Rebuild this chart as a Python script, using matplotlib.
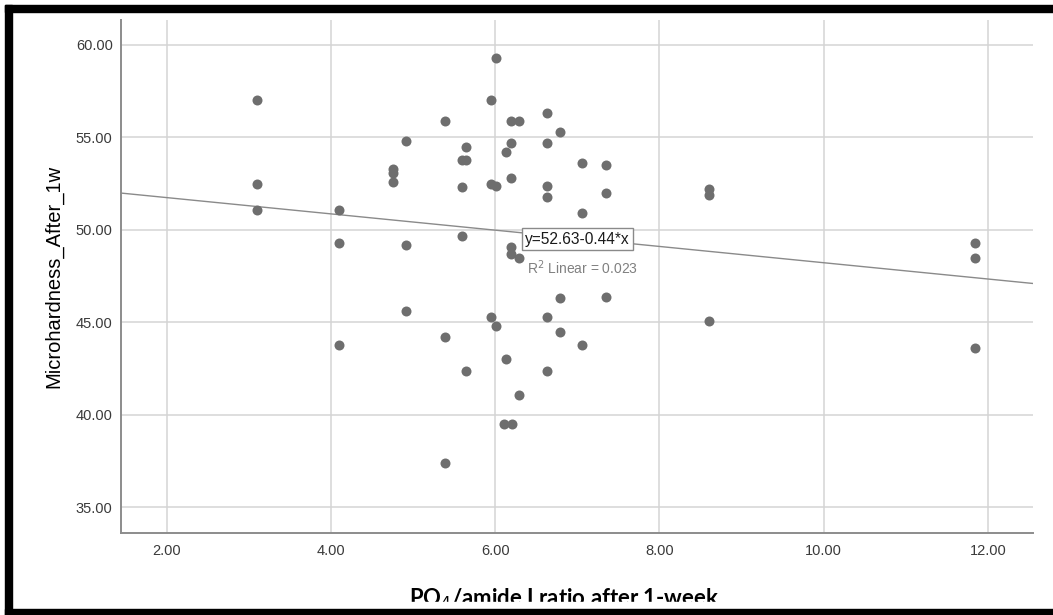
import matplotlib
matplotlib.use('Agg')
import matplotlib.pyplot as plt
from matplotlib.patches import Rectangle

plt.rcParams['font.family'] = ['Liberation Sans', 'DejaVu Sans']

# PO4/amide I ratio after 1 week
ratio = [3.10, 3.10, 3.10,
         4.10, 4.10, 4.10,
         4.76, 4.76, 4.76,
         4.91, 4.91, 4.91,
         5.39, 5.39, 5.39,
         5.59, 5.59, 5.59,
         5.65, 5.65, 5.65,
         5.95, 5.95, 5.95,
         6.01, 6.01, 6.01,
         6.13, 6.13, 6.11,
         6.19, 6.19, 6.19, 6.19, 6.19, 6.20,
         6.29, 6.29, 6.29,
         6.63, 6.63, 6.63, 6.63, 6.63, 6.63,
         6.79, 6.79, 6.79,
         7.06, 7.06, 7.06,
         7.35, 7.35, 7.35,
         8.61, 8.61, 8.61,
         11.84, 11.84, 11.84]
# microhardness after 1 week
hardness = [57.0, 52.5, 51.1,
            51.1, 49.3, 43.8,
            53.3, 53.1, 52.6,
            54.8, 49.2, 45.6,
            55.9, 44.2, 37.4,
            53.8, 52.3, 49.7,
            54.5, 53.8, 42.4,
            57.0, 52.5, 45.3,
            59.3, 52.4, 44.8,
            54.2, 43.0, 39.5,
            55.9, 54.7, 52.8, 49.1, 48.7, 39.5,
            55.9, 48.5, 41.1,
            56.3, 54.7, 52.4, 51.8, 45.3, 42.4,
            55.3, 46.3, 44.5,
            53.6, 50.9, 43.8,
            53.5, 52.0, 46.4,
            52.2, 51.9, 45.1,
            49.3, 48.5, 43.6]

intercept = 52.63
slope = -0.44
r2 = 0.023

xticks = [2, 4, 6, 8, 10, 12]
yticks = [35, 40, 45, 50, 55, 60]

fig = plt.figure(figsize=(10.53, 6.15), dpi=100)
ax = fig.add_axes([121/1053, 1 - 533/615, (1033 - 121)/1053, (533 - 20)/615])

ax.set_xlim(1.443, 12.55)
ax.set_ylim(33.62, 61.35)
ax.set_xticks(xticks)
ax.set_yticks(yticks)
ax.set_xticklabels([f'{v:.2f}' for v in xticks])
ax.set_yticklabels([f'{v:.2f}' for v in yticks])
ax.grid(True, color='#d4d4d4', linewidth=1.1)
ax.set_axisbelow(True)
ax.tick_params(axis='x', length=0, labelsize=10.5, labelcolor='#3a3a3a', pad=8)
ax.tick_params(axis='y', length=0, labelsize=10.5, labelcolor='#3a3a3a', pad=6)
for s in ['top', 'right']:
    ax.spines[s].set_visible(False)
for s in ['left', 'bottom']:
    ax.spines[s].set_color('#8c8c8c')
    ax.spines[s].set_linewidth(1.4)

ax.plot(ratio, hardness, 'o', color='#6e6e6e', markersize=7.2, markeredgewidth=0, zorder=3)

xl = ax.get_xlim()
ax.plot(xl, [intercept + slope * v for v in xl], color='#8a8a8a', linewidth=1, zorder=2)

ax.text(7.0, 49.51, f'y={intercept:.2f}{slope:.2f}*x', ha='center', va='center', fontsize=11.2,
        color='#1a1a1a', zorder=5,
        bbox=dict(boxstyle='square,pad=0.22', facecolor='white', edgecolor='#8a8a8a', linewidth=1))
ax.text(7.06, 47.95, f'R$^2$ Linear = {r2:.3f}', ha='center', va='center', fontsize=10,
        color='#808080', zorder=5)

ax.set_ylabel('Microhardness_After_1w', fontsize=14.5, labelpad=9)
fig.text(564/1053, 10/615, 'PO$_4$/amide I ratio after 1-week', ha='center', va='baseline',
         fontsize=15.9, fontweight='bold', family=['Lato', 'DejaVu Sans'])

# cropped bottom edge of the original figure, then the black frame
fig.patches.append(Rectangle((12/1053, 6/615), 1, 7/615, transform=fig.transFigure,
                             color='white', zorder=9))
fig.patches.append(Rectangle((5/1053, 0), 7/1053, 1 - 5/615, transform=fig.transFigure,
                             color='black', zorder=10))
fig.patches.append(Rectangle((5/1053, 1 - 11.5/615), 1, 6.5/615, transform=fig.transFigure,
                             color='black', zorder=10))
fig.patches.append(Rectangle((5/1053, 0), 1, 6/615, transform=fig.transFigure,
                             color='black', zorder=10))

fig.savefig('out.png', dpi=100)
